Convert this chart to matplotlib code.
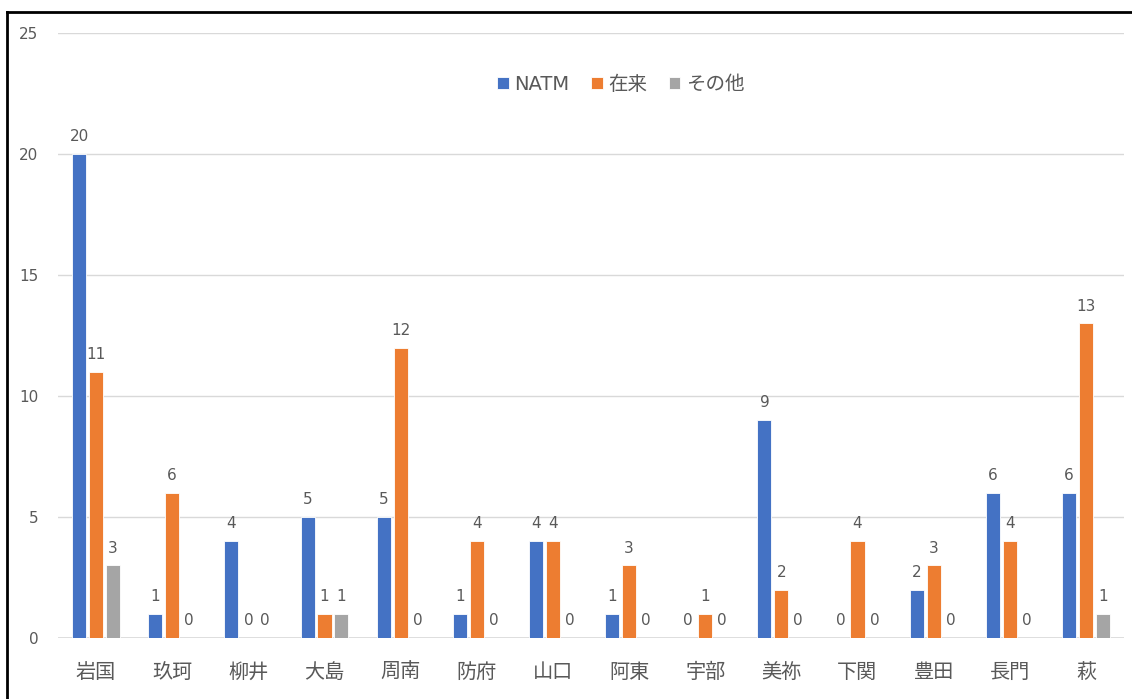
import matplotlib.pyplot as plt
import numpy as np
from matplotlib.lines import Line2D

plt.rcParams["font.family"] = ["DejaVu Sans", "Noto Sans CJK JP"]

categories = ["岩国", "玖珂", "柳井", "大島", "周南", "防府", "山口", "阿東", "宇部", "美祢", "下関", "豊田", "長門", "萩"]
natm = [20, 1, 4, 5, 5, 1, 4, 1, 0, 9, 0, 2, 6, 6]
zairai = [11, 6, 0, 1, 12, 4, 4, 3, 1, 2, 4, 3, 4, 13]
sonota = [3, 0, 0, 1, 0, 0, 0, 0, 0, 0, 0, 0, 0, 1]
series_names = ["NATM", "在来", "その他"]
colors = ["#4472C4", "#ED7D31", "#A5A5A5"]
text_color = "#595959"

fig = plt.figure(figsize=(11.32, 6.99), dpi=100)
ax = fig.add_axes([58 / 1132, 1 - 638 / 699, 1066 / 1132, 605 / 699])

x = np.arange(len(categories))
width = 0.185
step = 0.222
for k, (vals, name, col) in enumerate(zip([natm, zairai, sonota], series_names, colors)):
    pos = x + (k - 1) * step
    bars = ax.bar(pos, vals, width, color=col, label=name, zorder=3,
                  edgecolor="white", linewidth=0.6)
    for b, v in zip(bars, vals):
        ax.annotate(str(v), (b.get_x() + b.get_width() / 2, v),
                    xytext=(0, 7), textcoords="offset points",
                    ha="center", va="bottom", fontsize=11, color=text_color)

ax.set_xlim(-0.5, len(categories) - 0.5)
ax.set_ylim(0, 25)
ax.set_yticks([0, 5, 10, 15, 20, 25])
ax.set_xticks(x)
ax.set_xticklabels(categories, fontsize=14.5, color=text_color,
                   family=["Noto Sans CJK JP", "DejaVu Sans"])
ax.tick_params(axis="y", labelsize=11, labelcolor=text_color, length=0, pad=14)
ax.tick_params(axis="x", length=0, pad=17)
ax.grid(axis="y", color="#D9D9D9", linewidth=1, zorder=0)
for s in ax.spines.values():
    s.set_visible(False)
ax.axhline(0, color="#D9D9D9", linewidth=1.2, zorder=2)

leg = ax.legend(loc="center", bbox_to_anchor=(0.528, 0.915), ncol=3, frameon=False,
                fontsize=14, handlelength=0.6, handleheight=0.6, handletextpad=0.3,
                columnspacing=1.1)
for t in leg.get_texts():
    t.set_color(text_color)
    t.set_family(["DejaVu Sans", "Noto Sans CJK JP"])

# outer frame (left and top edges visible)
fig.add_artist(Line2D([7 / 1132, 7 / 1132], [0, 1 - 12 / 699], color="black", linewidth=2,
                      transform=fig.transFigure))
fig.add_artist(Line2D([7 / 1132, 1], [1 - 12 / 699, 1 - 12 / 699], color="black", linewidth=2,
                      transform=fig.transFigure))

fig.savefig("out.png", dpi=100)
